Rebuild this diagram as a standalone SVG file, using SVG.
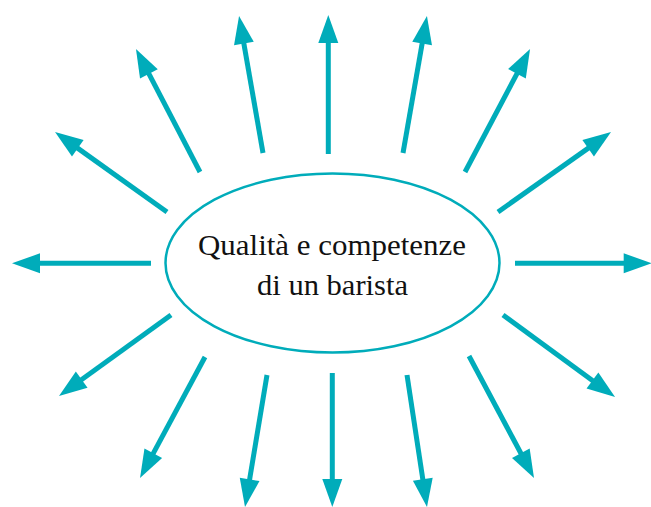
<svg xmlns="http://www.w3.org/2000/svg" width="651" height="507" viewBox="0 0 651 507">
<style>
.c{stroke:#00acba;stroke-width:5;fill:none;marker-end:url(#ah)}
.t{font-family:"Liberation Serif","Times New Roman",serif;font-size:29px;fill:#111;text-anchor:middle}
</style>
<defs>
<marker id="ah" markerUnits="userSpaceOnUse" markerWidth="40" markerHeight="30" viewBox="-10 -15 40 30" refX="0" refY="0" orient="auto">
<path d="M-8,-10 L20,0 L-8,10 z" fill="#00acba"/>
</marker>
</defs>
<rect width="651" height="507" fill="#fff"/>
<g id="connectors">
<path class="c" d="M263,153 L242.5,35.7"/>
<path class="c" d="M328.3,154 L328.3,35"/>
<path class="c" d="M403,153 L423.5,35.7"/>
<path class="c" d="M465,172 L520.7,66.7"/>
<path class="c" d="M498,212 L594.7,143.6"/>
<path class="c" d="M515,263.3 L631.7,263.3"/>
<path class="c" d="M503,315 L598.9,385.2"/>
<path class="c" d="M469,356 L524.6,460.3"/>
<path class="c" d="M407,375 L424,487.2"/>
<path class="c" d="M332.3,373 L332.3,487"/>
<path class="c" d="M267,375 L248.3,487.3"/>
<path class="c" d="M205,357 L149.5,460.4"/>
<path class="c" d="M171,315 L75.2,384.3"/>
<path class="c" d="M151,263.3 L32,263.3"/>
<path class="c" d="M167,212 L71.3,143.6"/>
<path class="c" d="M200,172 L145.2,66.7"/>
</g>
<g id="center">
<ellipse cx="332.5" cy="263" rx="167" ry="89.5" fill="#fff" stroke="#00acba" stroke-width="2.5"/>
<text class="t" x="332" y="255" textLength="268" lengthAdjust="spacingAndGlyphs">Qualità e competenze</text>
<text class="t" x="332.5" y="295" textLength="151" lengthAdjust="spacingAndGlyphs">di un barista</text>
</g>
</svg>
